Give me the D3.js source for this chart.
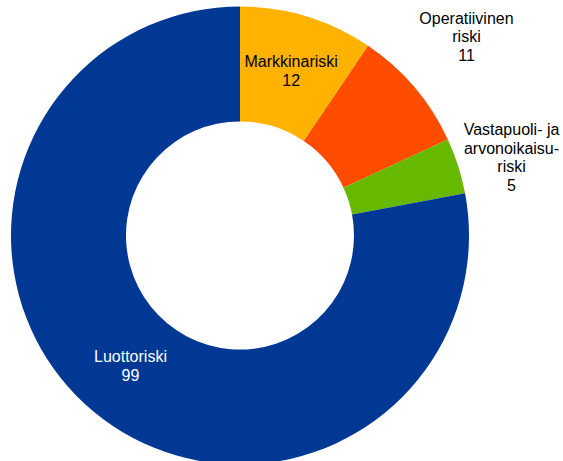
<!DOCTYPE html>
<html><head><meta charset="utf-8">
<script src="https://cdn.jsdelivr.net/npm/d3@7/dist/d3.min.js"></script>
<style>body{margin:0;background:#fff}svg{display:block}</style>
</head><body>
<svg id="c" width="563" height="461"></svg>
<script>
const categories = ["Markkinariski", "Operatiivinen riski", "Vastapuoli- ja arvonoikaisuriski", "Luottoriski"];
const labelLines = [["Markkinariski"], ["Operatiivinen", "riski"], ["Vastapuoli- ja", "arvonoikaisu-", "riski"], ["Luottoriski"]];
const values = [12, 11, 5, 99];
const colors = ["#FFB300", "#FF4D00", "#66B800", "#003894"];

const svg = d3.select("#c");
const cx = 240, cy = 235.5, rOuter = 229, rInner = 114;
const g = svg.append("g").attr("transform", `translate(${cx},${cy})`);

const pie = d3.pie().sort(null).value(d => d)(values);
const arc = d3.arc().innerRadius(rInner).outerRadius(rOuter);

g.selectAll("path").data(pie).join("path")
  .attr("d", arc).attr("fill", (d, i) => colors[i]);

// label placement: inside (centroid) or outside at given radius
const labelCfg = [
  {r: null, dx: 1, dy: -1, fill: "#000"},
  {r: 300, dx: -2, dy: -5, fill: "#000"},
  {r: 284, dx: 1, dy: 8, fill: "#000"},
  {r: null, dx: 0, dy: -2, fill: "#fff"}
];
const lh = 18.5;
pie.forEach((d, i) => {
  let x, y;
  const cfg = labelCfg[i];
  if (cfg.r === null) {
    [x, y] = arc.centroid(d);
  } else {
    const a = (d.startAngle + d.endAngle) / 2;
    x = cfg.r * Math.sin(a); y = -cfg.r * Math.cos(a);
  }
  x += cfg.dx; y += cfg.dy;
  const lines = labelLines[i].concat([String(values[i])]);
  const t = g.append("text")
    .attr("text-anchor", "middle")
    .attr("font-family", "Liberation Sans, Arial, sans-serif")
    .attr("font-size", 16)
    .attr("fill", cfg.fill);
  const y0 = y - (lines.length - 1) * lh / 2 + 6;
  lines.forEach((s, k) => {
    t.append("tspan").attr("x", x).attr("y", y0 + k * lh).text(s);
  });
});
</script>
</body></html>
